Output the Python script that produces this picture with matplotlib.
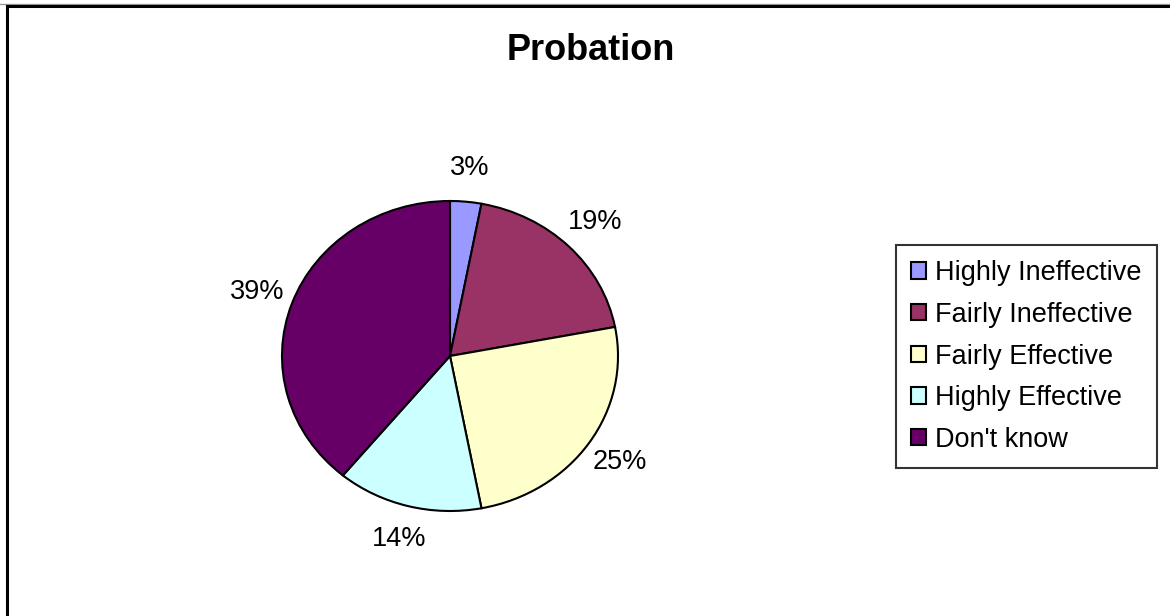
import matplotlib
matplotlib.use("Agg")
import matplotlib.pyplot as plt
from matplotlib.lines import Line2D

plt.rcParams['font.family'] = ['Liberation Sans', 'DejaVu Sans']

# Chart data
title = "Probation"
categories = ["Highly Ineffective", "Fairly Ineffective", "Fairly Effective",
              "Highly Effective", "Don't know"]
shares = [3, 19, 25, 14, 39]
colors = ["#9999FF", "#993366", "#FFFFCC", "#CCFFFF", "#660066"]

W, H = 1170, 616
fig = plt.figure(figsize=(W / 100, H / 100), dpi=100)

# pie centre ~ (450, 356) px, radii 168 x 155 px (slightly elliptical, like the original)
cx, cy, rx, ry = 450, 356, 168, 155
lim = 1.5
ax = fig.add_axes([(cx - lim * rx) / W, (H - cy - lim * ry) / H,
                   2 * lim * rx / W, 2 * lim * ry / H])

wedges, texts = ax.pie(shares, colors=colors, startangle=90, counterclock=False,
                       labels=[f"{v}%" for v in shares], labeldistance=1.22,
                       wedgeprops=dict(edgecolor="black", linewidth=1.5),
                       textprops=dict(fontsize=19.5, color="black"))
for t in texts:
    t.set_horizontalalignment("center")
    t.set_verticalalignment("center")
ax.set_aspect("auto")
ax.set_xlim(-lim, lim)
ax.set_ylim(-lim, lim)
ax.axis("off")

fig.text(591 / W, 1 - 50 / H, title, ha="center", va="center",
         fontsize=26, fontweight="bold")

leg = fig.legend(wedges, categories, loc="center left",
                 bbox_to_anchor=(896 / W, 1 - 356.5 / H), fontsize=19.5,
                 frameon=True, fancybox=False, shadow=False,
                 handlelength=0.55, handleheight=0.55, handletextpad=0.35,
                 labelspacing=0.58, borderpad=0.55, borderaxespad=0)
leg.get_frame().set_edgecolor("black")
leg.get_frame().set_linewidth(1.5)

# outer chart border (only top and left visible in the crop)
fig.add_artist(Line2D([0, 1], [1 - 3.5 / H, 1 - 3.5 / H], color="#999999", lw=1))
fig.add_artist(Line2D([6.5 / W, 1], [1 - 5.5 / H, 1 - 5.5 / H], color="black", lw=2.2))
fig.add_artist(Line2D([6.5 / W, 6.5 / W], [0, 1 - 5.5 / H], color="black", lw=2.2))

fig.savefig("out.png", dpi=100, facecolor="white")
